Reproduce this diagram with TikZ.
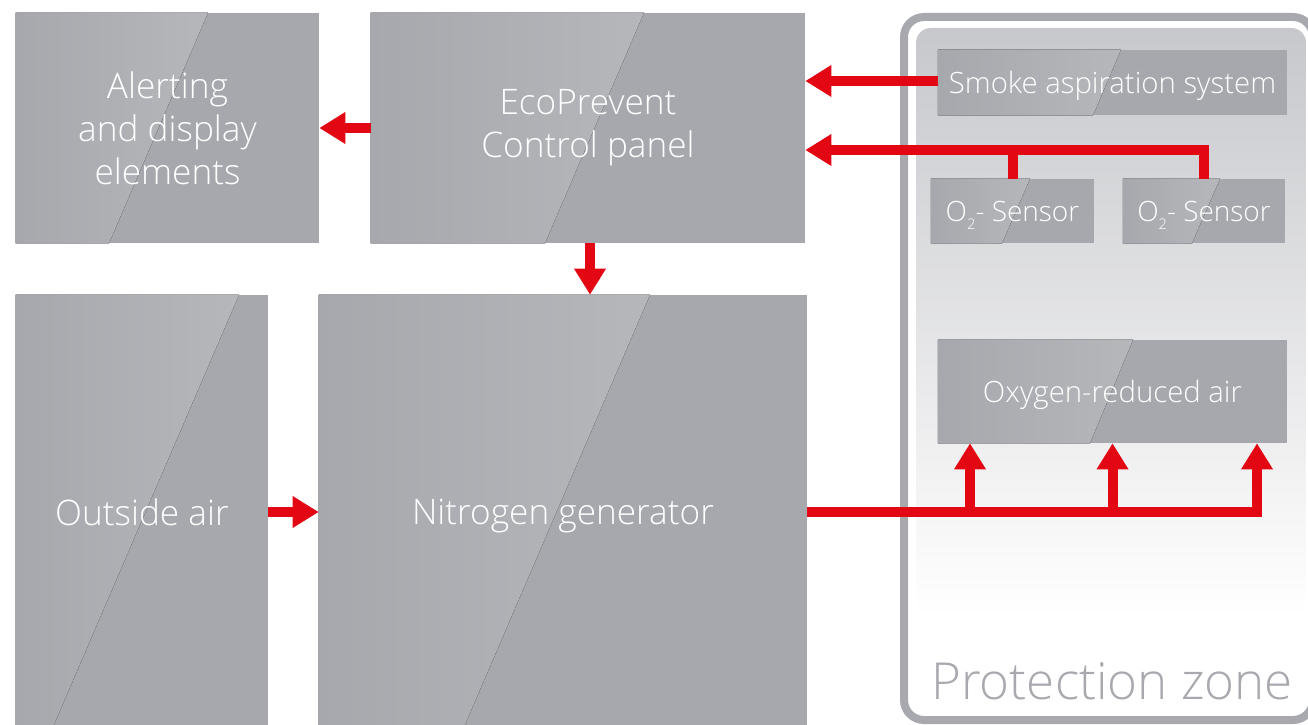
\documentclass[tikz,border=0pt]{standalone}
\usepackage{fontspec}
\IfFontExistsTF{Open Sans Light}{\setmainfont{Open Sans Light}}{\setmainfont{Open Sans}}
\usepackage{tikz}
\usetikzlibrary{arrows.meta,backgrounds}

\definecolor{boxgray}{RGB}{167,168,173}
\definecolor{boxlight}{RGB}{182,183,187}
\definecolor{zonegray}{RGB}{199,200,204}
\definecolor{zoneline}{RGB}{168,169,174}
\definecolor{flowred}{RGB}{227,6,19}

\pgfdeclareverticalshading{zonefade}{100bp}{color(0bp)=(white); color(32bp)=(white); color(75bp)=(zonegray); color(100bp)=(zonegray)}

\newcommand{\oxsub}{O\raisebox{-6.5pt}{\fontsize{11}{11}\selectfont 2}}

\tikzset{
  panel/.style={text=white, align=center, inner sep=0pt, font=\fontsize{26.4}{32.2}\selectfont},
  onepanel/.style={panel, text depth=0pt},
  smallpanel/.style={onepanel, font=\fontsize{22}{24}\selectfont},
  sensorpanel/.style={onepanel, font=\fontsize{21}{24}\selectfont},
  flow/.style={draw=flowred, line width=7.5pt, -{Triangle[length=19.5pt,width=22.5pt]}},
  feed/.style={draw=flowred, line width=7.5pt},
}

\begin{document}
\begin{tikzpicture}[x=0.75pt,y=0.75pt,yscale=-1,xscale=1]
\useasboundingbox (0,0) rectangle (1308,724);

% left blocks
\node[panel, minimum width=227.25pt, minimum height=172.5pt] (alert) at (167.5,128) {Alerting\\and display\\elements};
\node[panel, minimum width=325.5pt, minimum height=172.5pt] (eco) at (588,128) {EcoPrevent\\Control panel};
\node[onepanel, minimum width=189pt, minimum height=325.5pt] (outside) at (142,512) {Outside air};
\node[onepanel, minimum width=366pt, minimum height=325.5pt] (nitro) at (563,512) {Nitrogen generator};

% protection zone
\node[smallpanel, minimum width=261.75pt, minimum height=48.75pt] (smoke) at (1112.5,82.5) {Smoke aspiration system};
\node[sensorpanel, minimum width=122.25pt, minimum height=48pt] (sensA) at (1012.5,211) {\oxsub- Sensor};
\node[sensorpanel, minimum width=121.5pt, minimum height=48pt] (sensB) at (1204,211) {\oxsub- Sensor};
\node[smallpanel, minimum width=261.75pt, minimum height=77.25pt] (oxy) at (1112.5,391.5) {Oxygen-reduced air};
\node[text=zoneline, font=\fontsize{38.3}{40}\selectfont] (zonelabel) at (1112,681) {Protection zone};

\begin{scope}[on background layer]
\draw[zoneline, line width=6pt, rounded corners=15pt] (904,17) rectangle (1313,720);
\path[shading=zonefade, rounded corners=11pt] (916,28) rectangle (1306,711);
% boxes with the light stripe
\foreach \n/\t/\b in {alert/208/109, eco/644/545, outside/239/52, nitro/650/463, smoke/1121/1093, sensA/1030/1002, sensB/1220/1192, oxy/1133/1090} {
  \fill[boxgray] (\n.north west) rectangle (\n.south east);
  \fill[left color=boxgray, right color=boxlight] (\n.north west) -- (\t,0 |- \n.north west) -- (\b,0 |- \n.south west) -- (\n.south west) -- cycle;
}
\end{scope}

% connectors
\draw[flow] (eco.west) -- (alert.east);
\draw[flow] (eco.south -| 590,0) -- (nitro.north -| 590,0);
\draw[flow] (outside.east) -- (nitro.west);
\draw[flow] (smoke.west |- 0,81) -- (eco.east |- 0,81);

\coordinate (sbus) at (1204,150);
\draw[flow] (sensB.north) |- (eco.east |- sbus);
\draw[feed] (sensA.north) -- (sensA.north |- sbus);

\coordinate (oA) at (970,512);
\coordinate (oB) at (1112.5,512);
\coordinate (oC) at (1257,512);
\draw[flow] (nitro.east) -| (oC |- oxy.south);
\draw[flow] (oA) -- (oA |- oxy.south);
\draw[flow] (oB) -- (oB |- oxy.south);

\end{tikzpicture}
\end{document}
